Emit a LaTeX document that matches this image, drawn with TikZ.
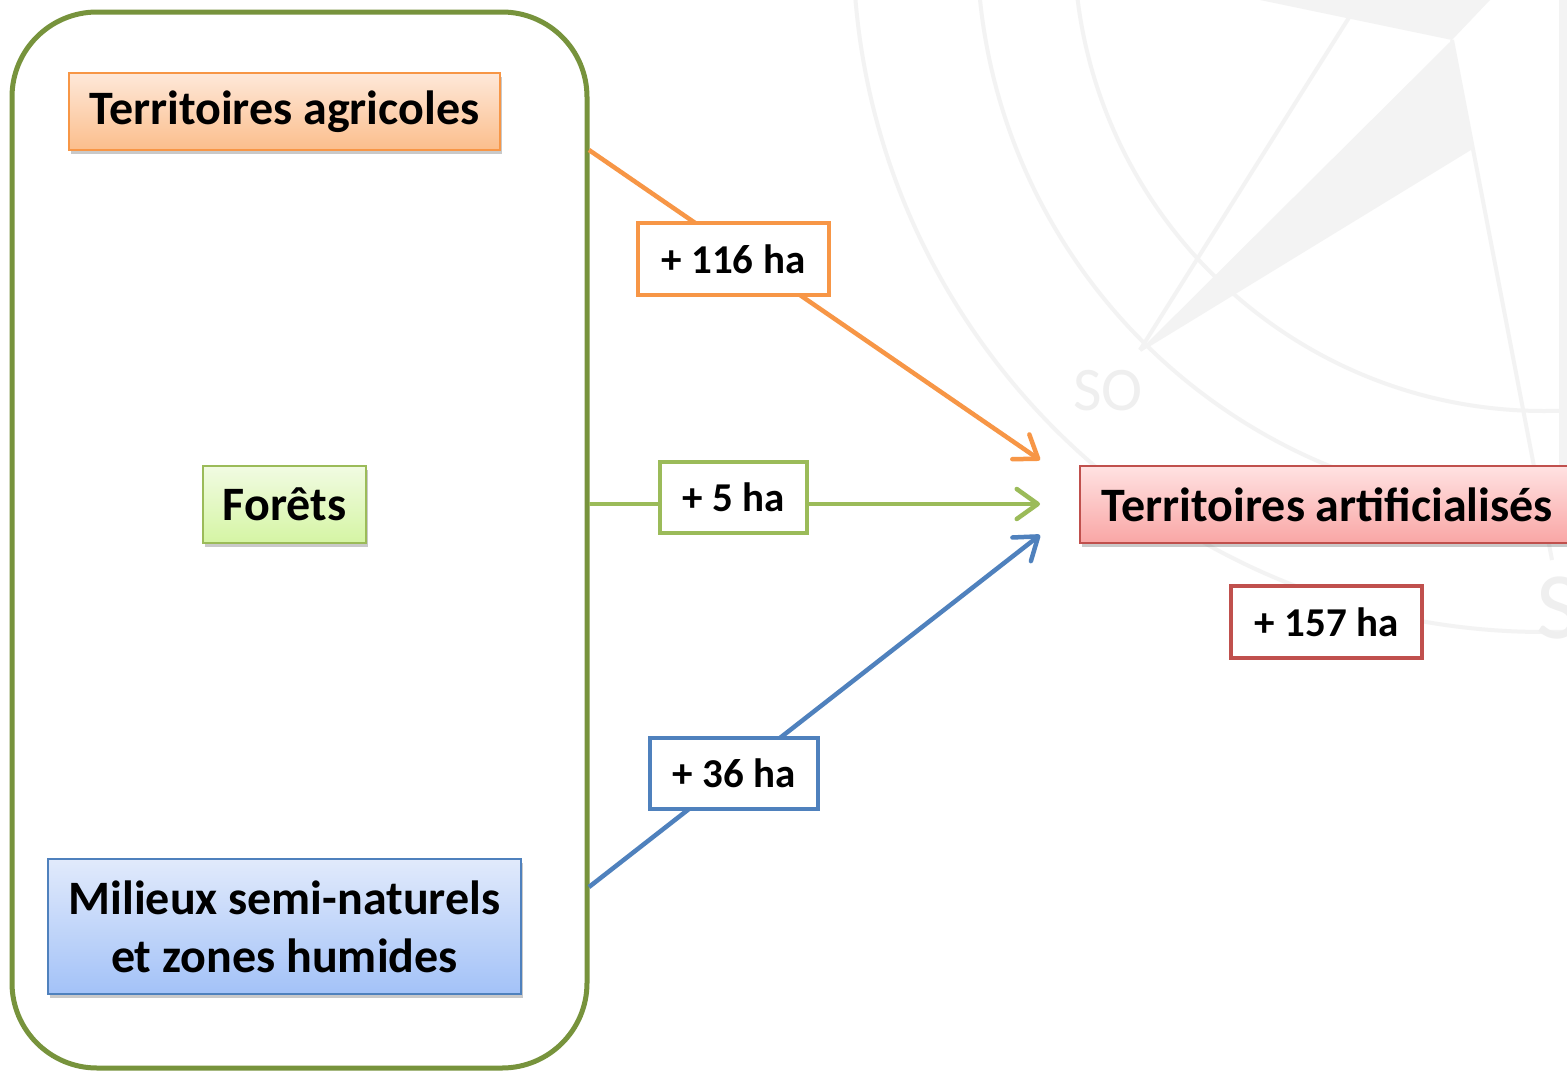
\documentclass[tikz,border=0pt]{standalone}
\usepackage{fontspec}
\setmainfont{Carlito}
\usetikzlibrary{arrows.meta,shadows}
\definecolor{gframe}{HTML}{77933C}
\definecolor{corange}{HTML}{F79646}
\definecolor{cgreen}{HTML}{9BBB59}
\definecolor{cblue}{HTML}{4F81BD}
\definecolor{cred}{HTML}{C0504D}
\definecolor{agritop}{HTML}{FEE8D9}
\definecolor{agribot}{HTML}{FBBE8C}
\definecolor{forettop}{HTML}{F1FBE2}
\definecolor{foretbot}{HTML}{D5F5A4}
\definecolor{miltop}{HTML}{E1EAFB}
\definecolor{milbot}{HTML}{A3C2F8}
\definecolor{arttop}{HTML}{FFE2E2}
\definecolor{artbot}{HTML}{F9A6A5}
\definecolor{wmgray}{HTML}{F3F3F3}
\definecolor{wmtxt}{HTML}{EFEFEF}
\tikzset{
  wmline/.style={draw=wmgray, line width=4pt},
  wmfill/.style={fill=wmgray},
  wmtext/.style={text=wmtxt, font=\fontsize{62}{62}\selectfont, inner sep=0pt},
  catbox/.style={rectangle, line width=1.8pt, inner sep=0pt,
    font=\fontsize{48}{58}\selectfont\bfseries, align=center,
    drop shadow={shadow xshift=2pt, shadow yshift=-4pt, opacity=0.35, fill=black!60}},
  valbox/.style={rectangle, draw, fill=white, line width=4.5pt, inner sep=0pt,
    minimum height=72pt, font=\fontsize{41}{43}\selectfont\bfseries},
  flow/.style={line width=4.5pt, -{Straight Barb[length=21pt,width=30pt,round]}},
}
\begin{document}
\begin{tikzpicture}[x=1pt,y=-1pt]
\useasboundingbox (0,0) rectangle (1567,1071);
\fill[white] (0,0) rectangle (1567,1071);
% watermark compass
\begin{scope}
\clip (0,0) rectangle (1567,1071);
\fill[wmfill] (1140,350) -- (1452,40) -- (1472,147) -- cycle;
\fill[wmfill] (1260,0) -- (1490,0) -- (1452,40) -- cycle;
\fill[wmfill] (1559,0) rectangle (1567,470);
\draw[wmline] (1544,-59) circle[radius=691];
\draw[wmline] (1544,-59) circle[radius=567];
\draw[wmline] (1544,-59) circle[radius=470];
\draw[wmline] (1140,350) -- (1355,8);
\draw[wmline] (1140,350) -- (1472,147);
\draw[wmline] (1452,40) -- (1552,560);
\node[wmtext] (so) at (1108,391) {SO};
\node[wmtext, anchor=west, font=\fontsize{95}{95}\selectfont] (sbig) at (1536,608) {S};
\end{scope}
% group frame
\node[draw=gframe, line width=5pt, rounded corners=85pt, minimum width=575pt, minimum height=1056pt, inner sep=0pt] (group) at (299.5,540) {};
% category boxes
\node[catbox, draw=corange, top color=agritop, bottom color=agribot, minimum width=431pt, minimum height=77pt] (agri) at (284.5,111.5) {Territoires agricoles};
\node[catbox, draw=cgreen, top color=forettop, bottom color=foretbot, minimum width=163pt, minimum height=77pt] (foret) at (284.5,504.5) {Forêts};
\node[catbox, draw=cblue, top color=miltop, bottom color=milbot, minimum width=473pt, minimum height=135pt] (milieux) at (284.5,926.5) {Milieux semi-naturels\\et zones humides};
\node[catbox, draw=cred, top color=arttop, bottom color=artbot, minimum width=495pt, minimum height=77pt] (art) at (1327.5,504.5) {Territoires artificialisés};
% connector ends
\coordinate (s1) at (589,150);
\coordinate (s2) at (589,504);
\coordinate (s3) at (589,887);
\coordinate (e1) at (1040,460);
\coordinate (e2) at (1040,504);
\coordinate (e3) at (1040,535);
\draw[flow, corange] (s1) -- (e1);
\draw[flow, cgreen] (s2) -- (e2);
\draw[flow, cblue] (s3) -- (e3);
% value boxes
\node[valbox, draw=corange, minimum width=191pt] (v116) at (733.5,259) {+ 116 ha};
\node[valbox, draw=cgreen, minimum width=147pt, minimum height=71pt] (v5) at (733.5,497.5) {+ 5 ha};
\node[valbox, draw=cblue, minimum width=168pt, minimum height=71pt] (v36) at (734,773.5) {+ 36 ha};
\node[valbox, draw=cred, minimum width=191pt] (v157) at (1326.5,622) {+ 157 ha};
\end{tikzpicture}
\end{document}
